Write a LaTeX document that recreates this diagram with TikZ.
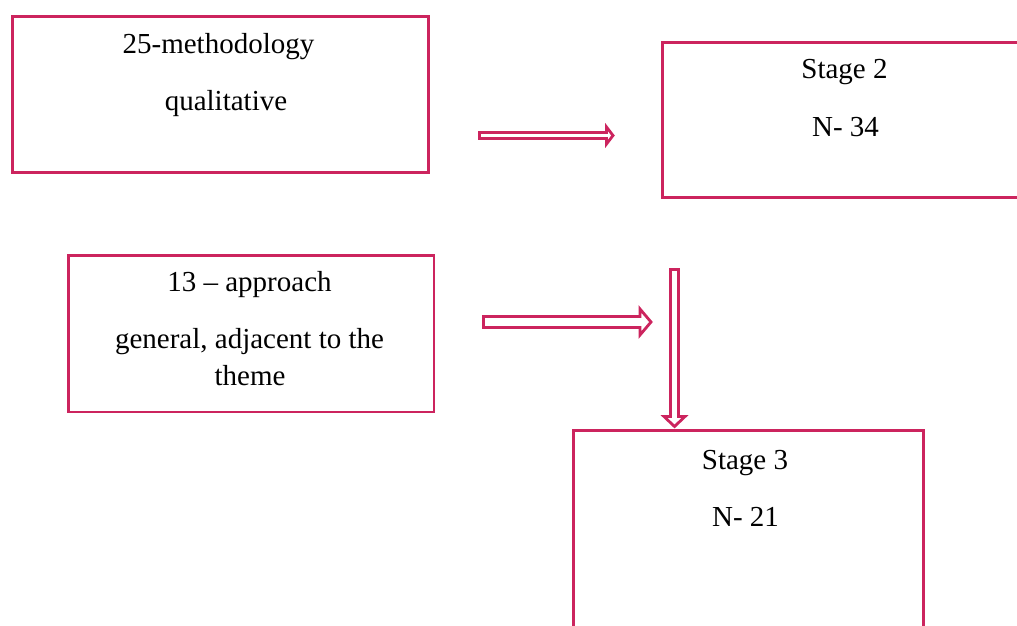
\documentclass[tikz,border=0pt]{standalone}
\usepackage{fontspec}
\setmainfont{Liberation Serif}
\usetikzlibrary{calc}
\definecolor{crim}{RGB}{204,36,94}
\tikzset{
  box/.style={draw=crim, line width=2.8pt, rectangle, inner sep=0pt, anchor=north west},
  lbl/.style={anchor=base, inner sep=0pt, font=\fontsize{29}{35}\selectfont, text=black},
  hollow/.style={draw=crim, line width=2.8pt, fill=white, line join=miter}
}
\newcommand\hollowH[5]{%
  \draw[hollow] ($(#1)+(0,-#3)$) -- ($(#2)+(-#5,-#3)$) -- ($(#2)+(-#5,-#4)$) -- (#2)
    -- ($(#2)+(-#5,#4)$) -- ($(#2)+(-#5,#3)$) -- ($(#1)+(0,#3)$) -- cycle;}
\newcommand\hollowV[5]{%
  \draw[hollow] ($(#1)+(-#3,0)$) -- ($(#2)+(-#3,-#5)$) -- ($(#2)+(-#4,-#5)$) -- (#2)
    -- ($(#2)+(#4,-#5)$) -- ($(#2)+(#3,-#5)$) -- ($(#1)+(#3,0)$) -- cycle;}
\begin{document}
\begin{tikzpicture}[x=1pt,y=-1pt]
\useasboundingbox (0,0) rectangle (1017,625);
\clip (0,0) rectangle (1017,625);

% boxes
\node[box, minimum width=415.9pt, minimum height=155.7pt] (b1) at (10.8,15.3) {};
\node[box, minimum width=380pt, minimum height=155pt] (b2) at (661,40.7) {};
\node[box, minimum width=365.8pt, minimum height=156.8pt] (b3) at (66.7,253.7) {};
\node[box, minimum width=350pt, minimum height=215pt] (b4) at (571.7,429) {};

% texts
\node[lbl] (t1a) at (218.5,53.3) {25-methodology};
\node[lbl] (t1b) at (226,110) {qualitative};
\node[lbl] (t2a) at (844.5,78.3) {Stage 2};
\node[lbl] (t2b) at (845.5,136) {N- 34};
\node[lbl] (t3a) at (249.5,291.7) {13 – approach};
\node[lbl] (t3b) at (249.5,348.3) {general, adjacent to the};
\node[lbl] (t3c) at (250,385) {theme};
\node[lbl] (t4a) at (745,469.3) {Stage 3};
\node[lbl] (t4b) at (745.5,526) {N- 21};

% arrows
\coordinate (a1s) at (479.5,135.5);
\coordinate (a1e) at (613,135.5);
\hollowH{a1s}{a1e}{3}{8.5}{6.5}
\coordinate (a2s) at (483.5,322);
\coordinate (a2e) at (651,322);
\hollowH{a2s}{a2e}{5.5}{13}{11}
\coordinate (a3s) at (674.5,269.5);
\coordinate (a3e) at (674.5,426.5);
\hollowV{a3s}{a3e}{4}{10.5}{10}
\end{tikzpicture}
\end{document}
